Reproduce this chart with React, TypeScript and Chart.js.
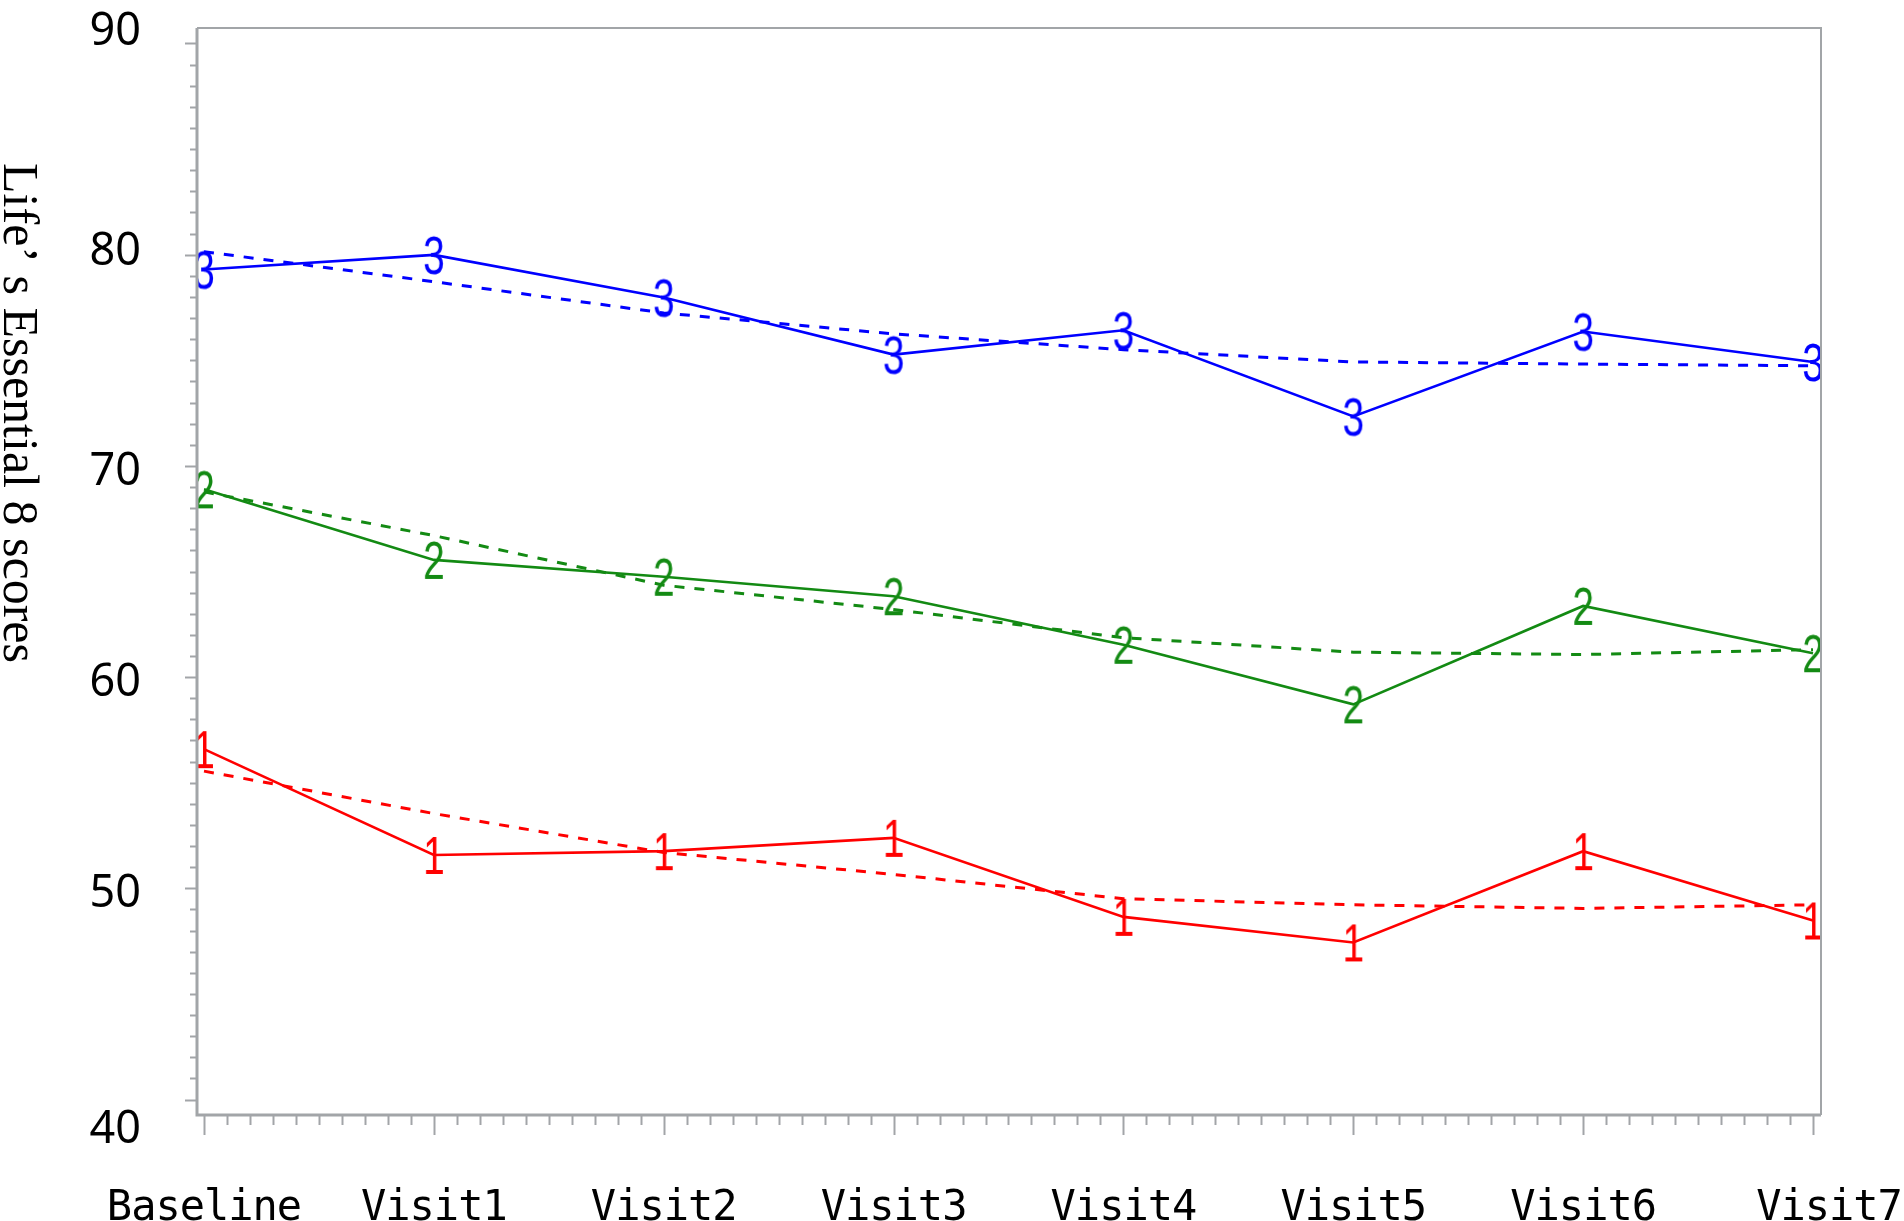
import React, { useEffect, useRef } from "react";
import { Chart, registerables } from "chart.js";

Chart.register(...registerables);

const W = 1904;
const H = 1221;

// ---- data ----
const visitLabels = ["Baseline", "Visit1", "Visit2", "Visit3", "Visit4", "Visit5", "Visit6", "Visit7"];
const yTickValues = [40, 50, 60, 70, 80, 90];
const yAxisTitle = "Life’ s Essential 8 scores";
const groupMarkers = ["1", "2", "3"];

const group1Observed = [56.59, 51.58, 51.76, 52.39, 48.65, 47.44, 51.76, 48.48];
const group1Fitted = [55.55, 53.54, 51.7, 50.66, 49.51, 49.22, 49.05, 49.22];
const group2Observed = [68.89, 65.55, 64.75, 63.83, 61.53, 58.71, 63.37, 61.13];
const group2Fitted = [68.77, 66.7, 64.35, 63.2, 61.87, 61.18, 61.07, 61.3];
const group3Observed = [79.3, 79.99, 77.97, 75.27, 76.42, 72.34, 76.36, 74.92];
const group3Fitted = [80.14, 78.72, 77.24, 76.25, 75.5, 74.92, 74.82, 74.74];

// ---- styles ----
const groupColors = ["#ff0000", "#138a13", "#0000ff"];
const frameColor = "#a2a5a8";

function makeMarker(ch: string, color: string): HTMLCanvasElement {
  const c = document.createElement("canvas");
  c.width = 36;
  c.height = 52;
  const ctx = c.getContext("2d")!;
  ctx.fillStyle = color;
  ctx.font = "54px 'Liberation Sans', Arial, sans-serif";
  ctx.textAlign = "center";
  ctx.textBaseline = "alphabetic";
  ctx.translate(18, 26 + 19);
  ctx.scale(0.72, 1);
  ctx.fillText(ch, 0, 0);
  return c;
}

const toPoints = (vals: number[]) => vals.map((v, i) => ({ x: i, y: v }));

const axesPlugin = {
  id: "sasAxes",
  afterDraw(chart: any) {
    const { ctx, chartArea: a, scales } = chart;
    const x = scales.x;
    const y = scales.y;
    ctx.save();
    ctx.strokeStyle = frameColor;
    // frame
    ctx.lineWidth = 2;
    ctx.beginPath();
    ctx.moveTo(a.left, a.top);
    ctx.lineTo(a.right, a.top);
    ctx.lineTo(a.right, a.bottom);
    ctx.stroke();
    ctx.lineWidth = 3;
    ctx.beginPath();
    ctx.moveTo(a.left, a.top);
    ctx.lineTo(a.left, a.bottom);
    ctx.lineTo(a.right, a.bottom);
    ctx.stroke();

    // y ticks (major every 10, minor every 1)
    ctx.lineWidth = 2;
    const yMin = yTickValues[0];
    const yMax = yTickValues[yTickValues.length - 1];
    for (let v = yMin; v <= yMax; v++) {
      const py = Math.round(y.getPixelForValue(v)) + 0.5;
      const len = v % 10 === 0 ? 12 : 7;
      ctx.beginPath();
      ctx.moveTo(a.left - len, py);
      ctx.lineTo(a.left, py);
      ctx.stroke();
    }
    // x ticks (major per visit, minor every tenth)
    const n = visitLabels.length - 1;
    for (let i = 0; i <= n * 10; i++) {
      const px = Math.round(x.getPixelForValue(i / 10)) + 0.5;
      const len = i % 10 === 0 ? 20 : 10;
      ctx.beginPath();
      ctx.moveTo(px, a.bottom + 1);
      ctx.lineTo(px, a.bottom + len);
      ctx.stroke();
    }

    // y tick labels
    ctx.fillStyle = "#000";
    ctx.font = "45px 'Noto Sans', 'Open Sans', sans-serif";
    ctx.textAlign = "right";
    ctx.textBaseline = "alphabetic";
    yTickValues.forEach((v, idx) => {
      let py = y.getPixelForValue(v);
      if (idx === 0) py += 27;
      else if (idx === yTickValues.length - 1) py -= 14;
      else if (idx === yTickValues.length - 2) py -= 6;
      else py += 3;
      ctx.fillText(String(v), 141, py + 16);
    });

    // x tick labels
    ctx.font = "42px 'DejaVu Sans Mono', monospace";
    ctx.textAlign = "center";
    try {
      (ctx as any).letterSpacing = "-1px";
    } catch (e) {}
    visitLabels.forEach((lab, i) => {
      let px = x.getPixelForValue(i);
      if (i === visitLabels.length - 1) px += 16;
      ctx.fillText(lab, px, 1220);
    });
    try {
      (ctx as any).letterSpacing = "0px";
    } catch (e) {}

    // y axis title (rotated clockwise)
    ctx.font = "50px 'Liberation Serif', 'DejaVu Serif', serif";
    ctx.translate(4, 413);
    ctx.rotate(Math.PI / 2);
    ctx.textAlign = "center";
    ctx.fillText(yAxisTitle, 0, 0);
    ctx.restore();
  },
};

export default function App() {
  const ref = useRef<HTMLCanvasElement>(null);
  useEffect(() => {
    document.body.style.margin = "0";
    const observed = [group1Observed, group2Observed, group3Observed];
    const fitted = [group1Fitted, group2Fitted, group3Fitted];
    const datasets: any[] = [];
    for (let g = 0; g < 3; g++) {
      datasets.push({
        label: "fitted " + groupMarkers[g],
        data: toPoints(fitted[g]),
        borderColor: groupColors[g],
        borderWidth: 3,
        borderDash: [10, 10],
        pointRadius: 0,
        tension: 0,
      });
      datasets.push({
        label: "observed " + groupMarkers[g],
        data: toPoints(observed[g]),
        borderColor: groupColors[g],
        borderWidth: 2.6,
        pointStyle: makeMarker(groupMarkers[g], groupColors[g]),
        pointRadius: 10,
        tension: 0,
      });
    }
    const nCat = visitLabels.length - 1;
    const chart = new Chart(ref.current!, {
      type: "line",
      data: { datasets },
      options: {
        responsive: false,
        animation: false,
        layout: { padding: { left: 197, top: 28, right: 83, bottom: 106 } },
        plugins: { legend: { display: false }, tooltip: { enabled: false } },
        scales: {
          x: { type: "linear", display: false, min: -0.0304, max: nCat + 0.0348 },
          y: { type: "linear", display: false, min: 39.27, max: 90.73 },
        },
      },
      plugins: [axesPlugin],
    });
    return () => chart.destroy();
  }, []);
  return (
    <div style={{ width: W, height: H }}>
      <canvas ref={ref} width={W} height={H} style={{ display: "block", width: W, height: H }} />
    </div>
  );
}
